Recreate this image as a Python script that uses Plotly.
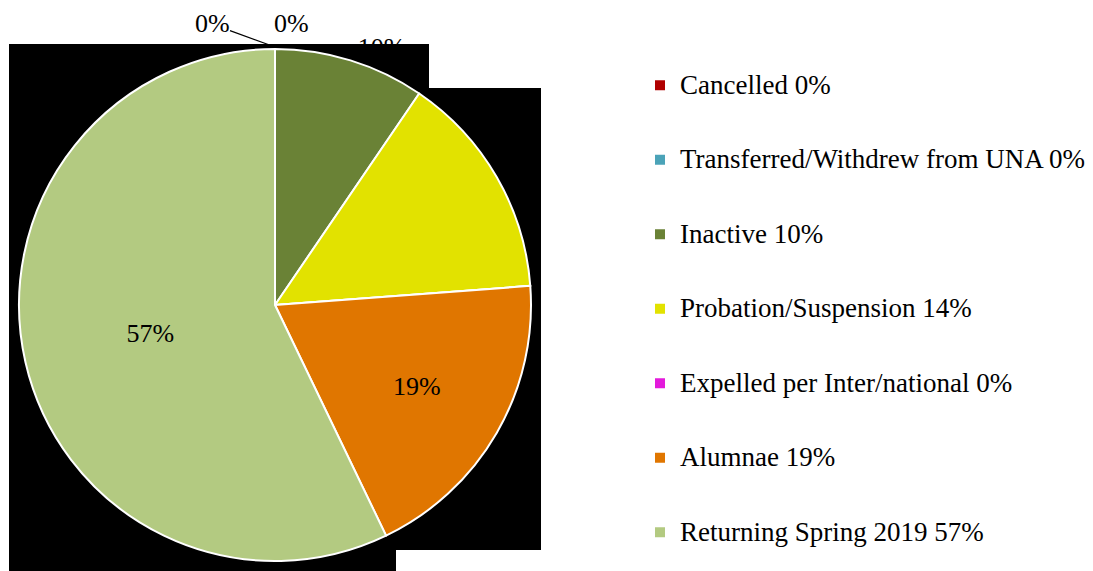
import plotly.graph_objects as go

# chapter membership status (counts)
categories = ['Cancelled', 'Transferred/Withdrew from UNA', 'Inactive',
              'Probation/Suspension', 'Expelled per Inter/national',
              'Alumnae', 'Returning Spring 2019']
counts = [0, 0, 2, 3, 0, 4, 12]
colors = ['#B00000', '#4BA3B8', '#6A8236', '#E2E200', '#E31ADB', '#E07600', '#B3CA81']
# the two empty slices at the top get their labels as annotations
text_pos = ['none', 'none', 'outside', 'none', 'none', 'inside', 'inside']

total = sum(counts)
pct = [round(v / total * 100) for v in counts]
legend_labels = [
    f'<span style="font-size:27px;baseline-shift:13px">{c} {p}%</span>'
    for c, p in zip(categories, pct)
]

W, H = 1093, 571
OFF = 8  # page body margin

px = lambda x: (x - OFF) / W
py = lambda y: 1 - (y - OFF) / H

label_font = dict(family='Liberation Serif', size=26, color='black')

fig = go.Figure()

fig.add_trace(go.Pie(
    labels=legend_labels,
    values=counts,
    sort=False,
    direction='clockwise',
    rotation=0,
    marker=dict(colors=colors, line=dict(color='white', width=2)),
    texttemplate='%{percent:.0%}',
    textposition=text_pos,
    textfont=label_font,
    insidetextfont=label_font,
    outsidetextfont=label_font,
    domain=dict(x=[px(19), px(531)], y=[py(561), py(49)]),
    showlegend=True,
))

# the black backdrop behind the pie in the original image
backdrop = (f'M {px(9)},{py(44)} L {px(429)},{py(44)} L {px(429)},{py(88)} '
            f'L {px(541)},{py(88)} L {px(541)},{py(550)} L {px(396)},{py(550)} '
            f'L {px(396)},{py(580)} L {px(9)},{py(580)} Z')

fig.update_layout(
    width=W, height=H,
    margin=dict(l=0, r=0, t=0, b=0, autoexpand=False),
    paper_bgcolor='white',
    plot_bgcolor='white',
    font=dict(family='Liberation Serif', color='black'),
    shapes=[dict(type='path', xref='paper', yref='paper', path=backdrop,
                 fillcolor='black', line=dict(width=0), layer='below')],
    annotations=[
        dict(xref='paper', yref='paper', x=px(275), y=py(47),
             text=f'{pct[0]}%', font=label_font, borderpad=0,
             showarrow=True, arrowhead=0, arrowwidth=1.2, arrowcolor='black',
             ax=-63, ay=-23, standoff=0),
        dict(xref='paper', yref='paper', x=px(273), y=py(23),
             xanchor='left', yanchor='middle', borderpad=0,
             text=f'{pct[1]}%', font=label_font, showarrow=False),
    ],
    legend=dict(
        x=(640 - OFF) / W, xanchor='left',
        y=py(309), yanchor='middle',
        font=dict(family='Liberation Serif', size=55, color='black'),
        bgcolor='rgba(0,0,0,0)',
    ),
)

fig.write_html('out.html')
